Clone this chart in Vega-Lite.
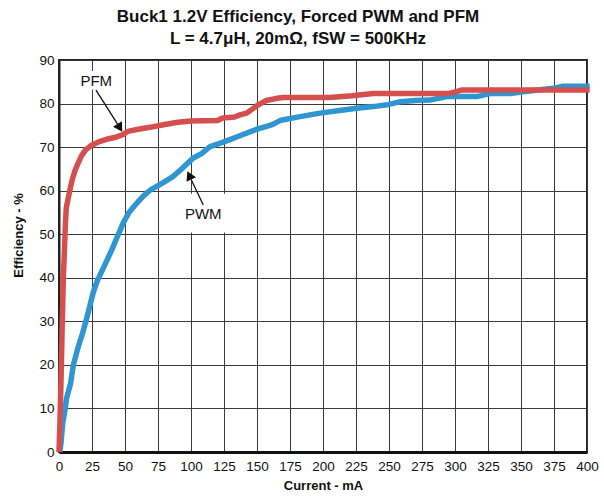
{
  "$schema": "https://vega.github.io/schema/vega-lite/v6.json",
  "width": 528,
  "height": 392,
  "autosize": {"type": "none"},
  "padding": {"left": 59, "top": 60, "right": 17, "bottom": 50},
  "background": "white",
  "config": {
    "font": "Liberation Sans",
    "view": {"stroke": "#222", "strokeWidth": 2},
    "axis": {
      "grid": true, "gridColor": "#3a3a3a", "gridWidth": 1, "gridOpacity": 1,
      "ticks": false, "labelColor": "#111", "labelFontSize": 13.5, "labelFont": "Liberation Sans", "labelOverlap": false,
      "titleColor": "#111", "titleFontSize": 13, "titleFontWeight": "bold", "titleFont": "Liberation Sans",
      "domainColor": "#222", "domainWidth": 2
    }
  },
  "title": {
    "text": ["Buck1 1.2V Efficiency, Forced PWM and PFM", "L = 4.7μH, 20mΩ, fSW = 500KHz"],
    "fontSize": 17, "fontWeight": "bold", "font": "Liberation Sans", "color": "#111",
    "lineHeight": 22, "anchor": "middle", "dx": -25, "offset": 5
  },
  "datasets": {
    "curves": [
      {"series": "PWM", "current": 0.5, "eff": 0},
      {"series": "PWM", "current": 1.5, "eff": 2},
      {"series": "PWM", "current": 2.8, "eff": 6.6},
      {"series": "PWM", "current": 4.5, "eff": 9.6},
      {"series": "PWM", "current": 5.8, "eff": 12.4},
      {"series": "PWM", "current": 8.8, "eff": 15.8},
      {"series": "PWM", "current": 10.9, "eff": 20},
      {"series": "PWM", "current": 14.6, "eff": 24.2},
      {"series": "PWM", "current": 17.9, "eff": 27.3},
      {"series": "PWM", "current": 21, "eff": 30.7},
      {"series": "PWM", "current": 23.5, "eff": 33.7},
      {"series": "PWM", "current": 25.8, "eff": 36.5},
      {"series": "PWM", "current": 29, "eff": 39.3},
      {"series": "PWM", "current": 34, "eff": 42.5},
      {"series": "PWM", "current": 40, "eff": 46.4},
      {"series": "PWM", "current": 44, "eff": 49.3},
      {"series": "PWM", "current": 48.7, "eff": 52.6},
      {"series": "PWM", "current": 53, "eff": 55.0},
      {"series": "PWM", "current": 58.8, "eff": 57.1},
      {"series": "PWM", "current": 64, "eff": 58.8},
      {"series": "PWM", "current": 69, "eff": 60.1},
      {"series": "PWM", "current": 78, "eff": 61.7},
      {"series": "PWM", "current": 86.6, "eff": 63.3},
      {"series": "PWM", "current": 94, "eff": 65.3},
      {"series": "PWM", "current": 101.7, "eff": 67.5},
      {"series": "PWM", "current": 108, "eff": 68.5},
      {"series": "PWM", "current": 114.4, "eff": 70.1},
      {"series": "PWM", "current": 125, "eff": 71.2},
      {"series": "PWM", "current": 137, "eff": 72.6},
      {"series": "PWM", "current": 149.7, "eff": 74.1},
      {"series": "PWM", "current": 158, "eff": 74.8},
      {"series": "PWM", "current": 162, "eff": 75.2},
      {"series": "PWM", "current": 167.4, "eff": 76.1},
      {"series": "PWM", "current": 182.6, "eff": 77},
      {"series": "PWM", "current": 197.7, "eff": 77.8},
      {"series": "PWM", "current": 215.4, "eff": 78.5},
      {"series": "PWM", "current": 225.5, "eff": 78.9},
      {"series": "PWM", "current": 238, "eff": 79.3},
      {"series": "PWM", "current": 250, "eff": 79.8},
      {"series": "PWM", "current": 258, "eff": 80.4},
      {"series": "PWM", "current": 270, "eff": 80.7},
      {"series": "PWM", "current": 281, "eff": 80.8},
      {"series": "PWM", "current": 293.7, "eff": 81.6},
      {"series": "PWM", "current": 316.4, "eff": 81.6},
      {"series": "PWM", "current": 326.5, "eff": 82.3},
      {"series": "PWM", "current": 341.7, "eff": 82.3},
      {"series": "PWM", "current": 351.5, "eff": 82.7},
      {"series": "PWM", "current": 374.5, "eff": 83.5},
      {"series": "PWM", "current": 382, "eff": 84},
      {"series": "PWM", "current": 402, "eff": 84},
      {"series": "PFM", "current": 0, "eff": 0},
      {"series": "PFM", "current": 1, "eff": 10},
      {"series": "PFM", "current": 1.8, "eff": 20},
      {"series": "PFM", "current": 2.5, "eff": 30},
      {"series": "PFM", "current": 3.3, "eff": 40},
      {"series": "PFM", "current": 4.2, "eff": 47},
      {"series": "PFM", "current": 4.8, "eff": 52},
      {"series": "PFM", "current": 5.5, "eff": 56},
      {"series": "PFM", "current": 6.8, "eff": 58},
      {"series": "PFM", "current": 8.5, "eff": 60.5},
      {"series": "PFM", "current": 10, "eff": 62.5},
      {"series": "PFM", "current": 12, "eff": 64.5},
      {"series": "PFM", "current": 14, "eff": 66},
      {"series": "PFM", "current": 17, "eff": 68},
      {"series": "PFM", "current": 20, "eff": 69.3},
      {"series": "PFM", "current": 24, "eff": 70.3},
      {"series": "PFM", "current": 30, "eff": 71.2},
      {"series": "PFM", "current": 36, "eff": 71.8},
      {"series": "PFM", "current": 42, "eff": 72.2},
      {"series": "PFM", "current": 48, "eff": 72.8},
      {"series": "PFM", "current": 52, "eff": 73.6},
      {"series": "PFM", "current": 60, "eff": 74.1},
      {"series": "PFM", "current": 70, "eff": 74.6},
      {"series": "PFM", "current": 80, "eff": 75.2},
      {"series": "PFM", "current": 90, "eff": 75.7},
      {"series": "PFM", "current": 100, "eff": 76.0},
      {"series": "PFM", "current": 120, "eff": 76.1},
      {"series": "PFM", "current": 124, "eff": 76.7},
      {"series": "PFM", "current": 133, "eff": 76.9},
      {"series": "PFM", "current": 137, "eff": 77.4},
      {"series": "PFM", "current": 142, "eff": 77.8},
      {"series": "PFM", "current": 151, "eff": 79.7},
      {"series": "PFM", "current": 157, "eff": 80.7},
      {"series": "PFM", "current": 165, "eff": 81.2},
      {"series": "PFM", "current": 170, "eff": 81.4},
      {"series": "PFM", "current": 205, "eff": 81.4},
      {"series": "PFM", "current": 222, "eff": 81.8},
      {"series": "PFM", "current": 238, "eff": 82.3},
      {"series": "PFM", "current": 295, "eff": 82.3},
      {"series": "PFM", "current": 305, "eff": 83.1},
      {"series": "PFM", "current": 402, "eff": 83.1}
    ],
    "labels": [
      {"label": "PFM", "current": 28.2, "eff": 85.2},
      {"label": "PWM", "current": 109.3, "eff": 54.6}
    ],
    "arrows": [
      {"label": "PFM", "current": 28.0, "eff": 83.1, "current2": 44.5, "eff2": 75.2, "hx": 46.1, "hy": 74.4, "angle": 148},
      {"label": "PWM", "current": 109.3, "eff": 56.7, "current2": 100.4, "eff2": 62.4, "hx": 98.7, "hy": 63.5, "angle": 334.6}
    ],
    "box": [
      {"current": 14.4, "current2": 42.4, "eff": 83.2, "eff2": 87.5},
      {"current": 91.7, "current2": 129.5, "eff": 50.4, "eff2": 59.3}
    ]
  },
  "encoding": {
    "x": {"field": "current", "type": "quantitative", "scale": {"domain": [0, 400], "nice": false},
      "axis": {"values": [0,25,50,75,100,125,150,175,200,225,250,275,300,325,350,375,400], "title": "Current - mA", "labelPadding": 7, "titlePadding": 7, "domainWidth": 3, "domainColor": "#111", "labelOverlap": false, "labelFlush": false}},
    "y": {"field": "eff", "type": "quantitative", "scale": {"domain": [0, 90], "nice": false},
      "axis": {"values": [0,10,20,30,40,50,60,70,80,90], "title": "Efficiency - %", "labelPadding": 5, "titlePadding": 13, "titleY": 175, "labelOverlap": false}}
  },
  "layer": [
    {
      "data": {"name": "box"},
      "mark": {"type": "rect", "fill": "white", "stroke": null},
      "encoding": {
        "x2": {"field": "current2"},
        "y2": {"field": "eff2"}
      }
    },
    {
      "data": {"name": "curves"},
      "transform": [{"filter": "datum.series === 'PWM'"}],
      "mark": {"type": "line", "stroke": "#2f96d2", "strokeWidth": 5.5, "strokeJoin": "round", "strokeCap": "butt", "clip": false}
    },
    {
      "data": {"name": "curves"},
      "transform": [{"filter": "datum.series === 'PFM'"}],
      "mark": {"type": "line", "stroke": "#d64f4f", "strokeWidth": 5.5, "strokeJoin": "round", "strokeCap": "butt", "clip": false}
    },
    {
      "data": {"name": "arrows"},
      "mark": {"type": "rule", "stroke": "#111", "strokeWidth": 1.3},
      "encoding": {
        "x2": {"field": "current2"},
        "y2": {"field": "eff2"}
      }
    },
    {
      "data": {"name": "arrows"},
      "mark": {"type": "point", "shape": "triangle-up", "filled": true, "fill": "#111", "stroke": null, "opacity": 1, "size": 110},
      "encoding": {
        "x": {"field": "hx", "type": "quantitative"},
        "y": {"field": "hy", "type": "quantitative"},
        "angle": {"field": "angle", "type": "quantitative", "scale": null}
      }
    },
    {
      "data": {"name": "labels"},
      "mark": {"type": "text", "fontSize": 15, "font": "Liberation Sans", "color": "#111", "align": "center", "baseline": "middle"},
      "encoding": {
        "text": {"field": "label"}
      }
    }
  ]
}
